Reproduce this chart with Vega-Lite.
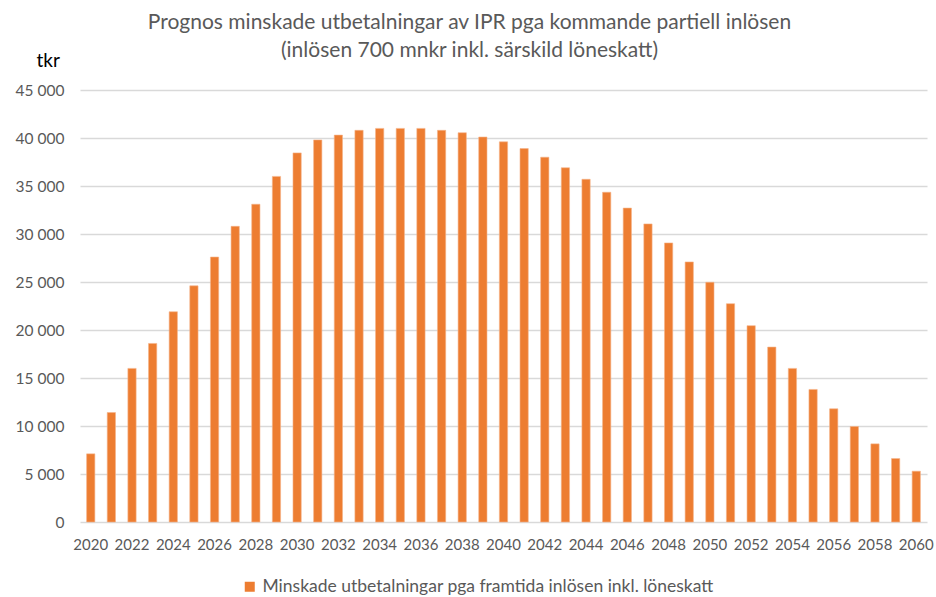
{
  "$schema": "https://vega.github.io/schema/vega-lite/v6.json",
  "autosize": "none",
  "width": 847,
  "height": 432,
  "padding": {"left": 80, "top": 90, "right": 9, "bottom": 75},
  "background": "white",
  "config": {
    "font": "Lato",
    "view": {"stroke": null}
  },
  "title": {
    "text": ["Prognos minskade utbetalningar av IPR pga kommande partiell inlösen", "(inlösen 700 mnkr inkl. särskild löneskatt)"],
    "anchor": "middle",
    "frame": "group",
    "dx": -34,
    "fontSize": 21,
    "fontWeight": "normal",
    "font": "Lato",
    "color": "#595959",
    "lineHeight": 28,
    "offset": -10
  },
  "data": {
    "values": [
      {"year": "2020", "value": 7100},
      {"year": "2021", "value": 11400},
      {"year": "2022", "value": 16000},
      {"year": "2023", "value": 18600},
      {"year": "2024", "value": 21900},
      {"year": "2025", "value": 24600},
      {"year": "2026", "value": 27600},
      {"year": "2027", "value": 30800},
      {"year": "2028", "value": 33100},
      {"year": "2029", "value": 36000},
      {"year": "2030", "value": 38450},
      {"year": "2031", "value": 39800},
      {"year": "2032", "value": 40300},
      {"year": "2033", "value": 40800},
      {"year": "2034", "value": 41000},
      {"year": "2035", "value": 41000},
      {"year": "2036", "value": 41000},
      {"year": "2037", "value": 40800},
      {"year": "2038", "value": 40550},
      {"year": "2039", "value": 40100},
      {"year": "2040", "value": 39600},
      {"year": "2041", "value": 38900},
      {"year": "2042", "value": 38000},
      {"year": "2043", "value": 36900},
      {"year": "2044", "value": 35700},
      {"year": "2045", "value": 34350},
      {"year": "2046", "value": 32700},
      {"year": "2047", "value": 31050},
      {"year": "2048", "value": 29070},
      {"year": "2049", "value": 27090},
      {"year": "2050", "value": 24970},
      {"year": "2051", "value": 22740},
      {"year": "2052", "value": 20450},
      {"year": "2053", "value": 18220},
      {"year": "2054", "value": 16000},
      {"year": "2055", "value": 13810},
      {"year": "2056", "value": 11790},
      {"year": "2057", "value": 9950},
      {"year": "2058", "value": 8140},
      {"year": "2059", "value": 6610},
      {"year": "2060", "value": 5290}
    ]
  },
  "mark": {"type": "bar", "stroke": "#F5B48A", "strokeWidth": 0.6},
  "encoding": {
    "x": {
      "field": "year",
      "type": "ordinal",
      "scale": {"paddingInner": 0.6, "paddingOuter": 0.32},
      "axis": {
        "title": null,
        "labelAngle": 0,
        "values": ["2020","2022","2024","2026","2028","2030","2032","2034","2036","2038","2040","2042","2044","2046","2048","2050","2052","2054","2056","2058","2060"],
        "labelFontSize": 15,
        "labelColor": "#595959",
        "labelPadding": 15,
        "labelOverlap": false,
        "ticks": false,
        "domain": false,
        "grid": false
      }
    },
    "y": {
      "field": "value",
      "type": "quantitative",
      "scale": {"domain": [0, 45000], "nice": false},
      "axis": {
        "title": "tkr",
        "titleAngle": 0,
        "titleAlign": "left",
        "titleBaseline": "alphabetic",
        "titleX": -44,
        "titleY": -24,
        "titleFontSize": 19,
        "titleFontWeight": "normal",
        "titleColor": "#000000",
        "values": [0, 5000, 10000, 15000, 20000, 25000, 30000, 35000, 40000, 45000],
        "labelExpr": "replace(format(datum.value, ','), ',', ' ')",
        "labelFontSize": 15.5,
        "labelColor": "#595959",
        "labelPadding": 16,
        "ticks": false,
        "domain": false,
        "grid": true,
        "gridColor": "#D9D9D9",
        "gridWidth": 1.3
      }
    },
    "color": {
      "datum": "Minskade utbetalningar pga framtida inlösen inkl. löneskatt",
      "type": "nominal",
      "scale": {"range": ["#ED7D31"]},
      "legend": {
        "title": null,
        "orient": "none",
        "legendX": 161,
        "legendY": 488,
        "symbolType": "square",
        "symbolSize": 100,
        "symbolStrokeWidth": 0,
        "labelFontSize": 17.5,
        "labelLimit": 700,
        "labelColor": "#595959",
        "labelOffset": 4
      }
    }
  }
}
